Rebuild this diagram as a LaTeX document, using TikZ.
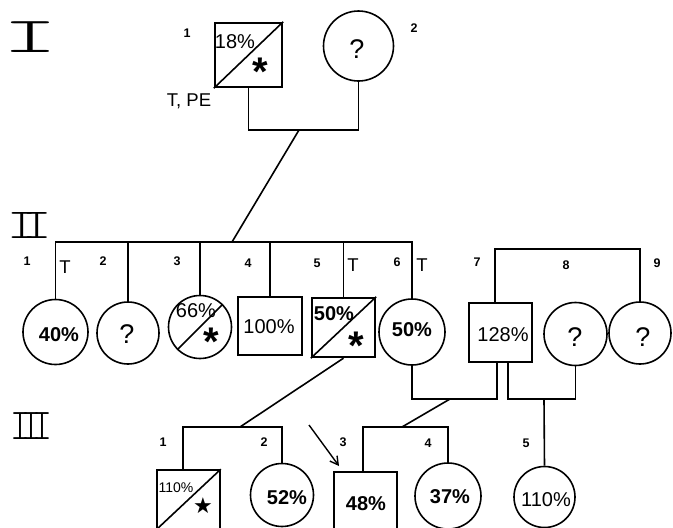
\documentclass[tikz,border=0pt]{standalone}
\usepackage{fontspec}
\setmainfont{Liberation Sans}
\newfontfamily\djv{DejaVu Sans}
\usetikzlibrary{calc,arrows.meta}
\newcommand{\genfont}{\ttfamily\fontseries{l}\selectfont}
\begin{document}
\begin{tikzpicture}[x=1pt,y=-1pt, line width=1.6pt, line join=miter,
  sq/.style={draw, rectangle, inner sep=0, minimum width=63pt, minimum height=59pt},
  ci/.style={draw, circle, inner sep=0},
  lab/.style={font=\fontsize{12.5}{12.5}\selectfont\bfseries, inner sep=0},
  tl/.style={font=\fontsize{18.5}{18.5}\selectfont, inner sep=0},
  pb/.style={font=\fontsize{20}{20}\selectfont\bfseries, inner sep=0},
  pr/.style={font=\fontsize{20}{20}\selectfont, inner sep=0},
  qm/.style={font=\fontsize{27}{27}\selectfont, inner sep=0},
  ast/.style={font=\fontsize{40}{40}\selectfont\bfseries, inner sep=0, anchor=north},
  gen/.style={inner sep=0}
]
\useasboundingbox (0,0) rectangle (673,528);

% generation numerals
\node[gen] (gI) at (30,37.5) {\scalebox{1.33}[0.63]{\fontsize{80}{80}\genfont I}};
\node[gen] (gII) at (29.5,225) {\scalebox{1}[0.76]{\fontsize{56}{56}\genfont I\kern-0.257em I}};
\node[gen] (gIII) at (31.5,426.5) {\scalebox{0.95}[1.1]{\fontsize{40}{40}\genfont I\kern-0.225em I\kern-0.225em I}};

% Generation I
\node[sq, minimum width=67pt, minimum height=64pt, line width=2.4pt] (I1) at (248.5,55) {};
\draw (I1.south west) -- (I1.north east);
\node[pr] (tI1) at (235,41.5) {18\%};
\node[ast] (aI1) at (260,57) {*};
\node[ci, minimum size=70pt] (I2) at (358.5,46) {};
\node[qm] (tI2) at (357,49) {?};
\node[lab] (nI1) at (187,33) {1};
\node[lab] (nI2) at (414,28) {2};
\node[tl] (tpe) at (189,101) {T, PE};

\coordinate (mI) at (299,130);
\draw (I1.south) |- (mI) -| (I2.south);
\coordinate (sII) at (232,242);
\draw (mI) -- (sII);

% Generation II
\node[ci, minimum size=65pt] (II1) at (55.5,332) {};
\node[pb] (tII1) at (59,335) {40\%};
\node[ci, minimum size=62pt] (II2) at (128,333) {};
\node[qm] (tII2) at (127,334) {?};
\node[ci, minimum size=63pt] (II3) at (200,327) {};
\draw (II3.225) -- (II3.45);
\node[pr] (tII3) at (196,311) {66\%};
\node[ast] (aII3) at (211,327) {*};
\node[sq, minimum width=64pt, minimum height=58pt] (II4) at (270,326) {};
\node[pr] (tII4) at (269,327) {100\%};
\node[sq, line width=2.4pt] (II5) at (343.5,327.5) {};
\draw (II5.south west) -- (II5.north east);
\node[pb] (tII5) at (334,314) {50\%};
\node[ast] (aII5) at (356,331) {*};
\node[ci, minimum size=66pt] (II6) at (412,332) {};
\node[pb] (tII6) at (412,330) {50\%};
\node[sq] (II7) at (500.5,332.5) {};
\node[pr] (tII7) at (503,334.5) {128\%};
\node[ci, minimum size=63pt] (II8) at (575.5,334) {};
\node[qm] (tII8) at (575,337) {?};
\node[ci, minimum size=62pt] (II9) at (640,333) {};
\node[qm] (tII9) at (643,337) {?};

\node[lab] (nII1) at (27,261) {1};
\node[tl] (TII1) at (65,267) {T};
\node[lab] (nII2) at (103,261) {2};
\node[lab] (nII3) at (177,261) {3};
\node[lab] (nII4) at (248,263) {4};
\node[lab] (nII5) at (317,263) {5};
\node[tl] (TII5) at (353,265) {T};
\node[lab] (nII6) at (397,262) {6};
\node[tl] (TII6) at (422,265) {T};
\node[lab] (nII7) at (477,262) {7};
\node[lab] (nII8) at (566,265) {8};
\node[lab] (nII9) at (657,263) {9};

\draw (II1.north) |- (II6.north |- sII) -- (II6.north);
\foreach \n in {II2,II3,II4,II5} \draw (\n.north |- sII) -- (\n.north);
\coordinate (m79) at (567,249);
\draw ($(II7.north)+(-5.5,0)$) |- (m79) -| (II9.north);

% Generation III
\node[sq] (III1) at (188.5,499.5) {};
\draw (III1.south west) -- (III1.north east);
\node[font=\fontsize{14}{14}\selectfont, inner sep=0] (tIII1) at (176,488) {110\%};
\node[font=\djv\fontsize{22}{22}\selectfont, inner sep=0] (aIII1) at (203,506) {★};
\node[ci, minimum size=63pt] (III2) at (282,495) {};
\node[pb] (tIII2) at (287,498) {52\%};
\node[sq, minimum height=57pt] (III3) at (365.5,500.5) {};
\node[pb] (tIII3) at (366,504) {48\%};
\node[ci, minimum size=66pt] (III4) at (448,496) {};
\node[pb] (tIII4) at (450,497) {37\%};
\node[ci, minimum size=61pt] (III5) at (544.5,497) {};
\node[pr] (tIII5) at (546,500) {110\%};

\node[lab] (nIII1) at (163,442) {1};
\node[lab] (nIII2) at (264,442) {2};
\node[lab] (nIII3) at (343,442) {3};
\node[lab] (nIII4) at (428,443) {4};
\node[lab] (nIII5) at (526,443) {5};

\coordinate (m67) at (450,399);
\draw (II6.south) |- (m67) -| ($(II7.south)+(-3.5,0)$);
\coordinate (m78) at (544,399);
\draw ($(II7.south)+(7.5,0)$) |- (m78) -| (II8.south);
\draw (m78) -- (III5.north);
\coordinate (s34) at (402,427);
\draw (m67) -- (s34);
\draw ($(III3.north)+(-2.5,0)$) |- (s34) -| (III4.north);
\coordinate (s12) at (240,427);
\draw (II5.south) -- (s12);
\draw ($(III1.north)+(-5.5,0)$) |- (s12) -| (III2.north);

\coordinate (arrA) at (309,425);
\coordinate (arrB) at (339,466);
\draw[-{Straight Barb[length=8pt,width=9pt]}, line width=1.4pt] (arrA) -- (arrB);
\end{tikzpicture}
\end{document}
